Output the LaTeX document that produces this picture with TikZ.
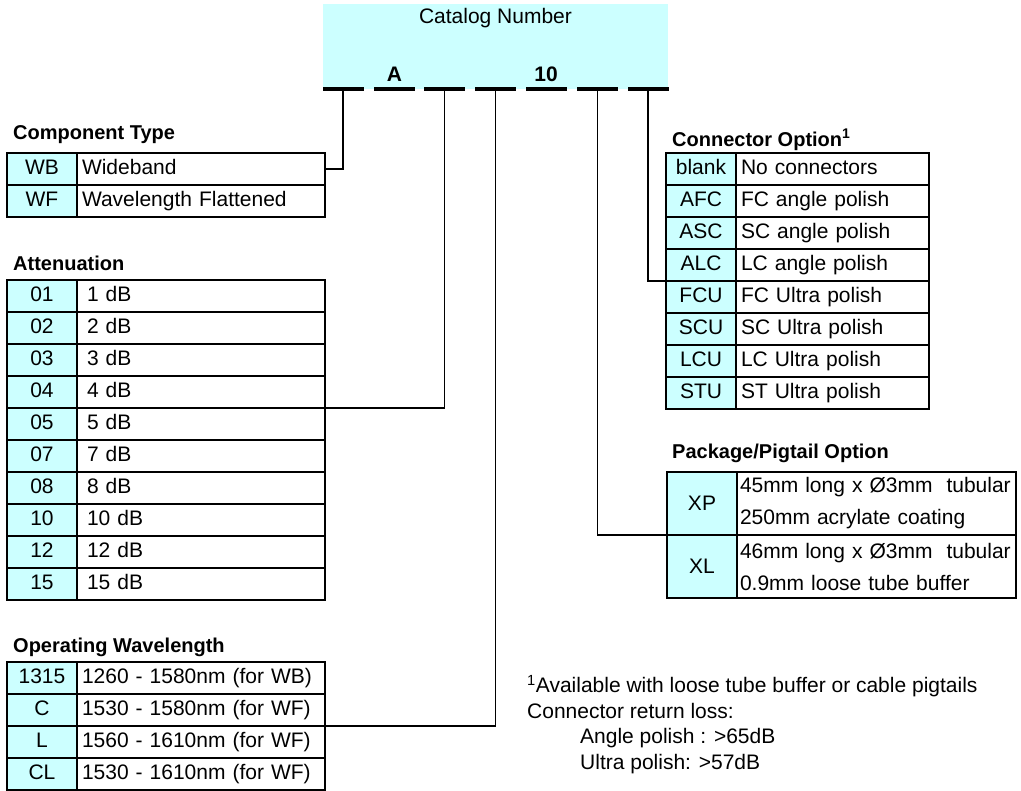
\documentclass[tikz,border=0pt]{standalone}
\usepackage{fontspec}
\setmainfont{Liberation Sans}
\usetikzlibrary{positioning}
\definecolor{keycyan}{HTML}{CCFFFF}
\tikzset{catbox/.style={fill=keycyan, anchor=north west, minimum width=345pt, minimum height=85pt, inner sep=0pt, outer sep=0pt}}
\tikzset{blank/.style={fill=black, minimum width=41pt, minimum height=4pt, inner sep=0pt, outer sep=0pt}}
\tikzset{keycell/.style={draw, fill=keycyan, line width=2pt, anchor=north west,
  minimum width=70pt, minimum height=32pt, inner sep=0pt, outer sep=0pt,
  text height=15.3pt, text depth=4.4pt}}
\tikzset{desccell/.style={draw, line width=2pt, anchor=north west,
  minimum height=32pt, inner xsep=5pt, inner ysep=0pt, outer sep=0pt,
  align=left, text height=15.3pt, text depth=4.4pt}}
\tikzset{pkdesc/.style={draw, line width=2pt, anchor=north west,
  minimum height=63pt, inner xsep=3pt, inner ysep=0pt, outer sep=0pt,
  align=left, text width=273pt, font=\fontsize{21}{32}\selectfont}}
\tikzset{tabhead/.style={anchor=west, inner sep=0pt, font=\fontsize{20}{24}\selectfont\bfseries}}
\tikzset{leader/.style={black, line width=1.2pt}}
\newcommand\optrow[6]{%
  \node[keycell](#1) at (#2,#3) {#4};
  \node[desccell, text width=#5](#1d) at (#1.north east) {#6};}

\begin{document}
\begin{tikzpicture}[x=1pt, y=-1pt, font=\fontsize{21}{25}\selectfont]
\useasboundingbox (0,0) rectangle (1021,791);

\node[catbox](cat) at (323,4) {};
\node(cattitle) at (495.5,18) {Catalog Number};

\node[blank](b1) at (343,89) {};
\node[blank](b2) at (394.5,89) {};
\node[blank](b3) at (444.5,89) {};
\node[blank](b4) at (495.5,89) {};
\node[blank](b5) at (546,89) {};
\node[blank](b6) at (597.5,89) {};
\node[blank](b7) at (648,89) {};
\node[font=\fontsize{21}{25}\selectfont\bfseries](fixa) at (394.5,74) {A};
\node[font=\fontsize{21}{25}\selectfont\bfseries](fixten) at (546,74) {10};

\node[tabhead](cthead) at (13,135) {Component Type};
\optrow{ct1}{7}{153}{WB}{238pt}{Wideband}
\optrow{ct2}{7}{185}{WF}{238pt}{Wavelength Flattened}

\node[tabhead](athead) at (13,263) {Attenuation};
\begin{scope}[desccell/.append style={inner xsep=10pt}]
\optrow{at1}{7}{280}{01}{228pt}{1 dB}
\optrow{at2}{7}{312}{02}{228pt}{2 dB}
\optrow{at3}{7}{344}{03}{228pt}{3 dB}
\optrow{at4}{7}{376}{04}{228pt}{4 dB}
\optrow{at5}{7}{408}{05}{228pt}{5 dB}
\optrow{at6}{7}{440}{07}{228pt}{7 dB}
\optrow{at7}{7}{472}{08}{228pt}{8 dB}
\optrow{at8}{7}{504}{10}{228pt}{10 dB}
\optrow{at9}{7}{536}{12}{228pt}{12 dB}
\optrow{at10}{7}{568}{15}{228pt}{15 dB}
\end{scope}

\node[tabhead](wlhead) at (13,647) {Operating Wavelength};
\optrow{wl1}{7}{662}{1315}{238pt}{1260 - 1580nm (for WB)}
\optrow{wl2}{7}{694}{C}{238pt}{1530 - 1580nm (for WF)}
\optrow{wl3}{7}{726}{L}{238pt}{1560 - 1610nm (for WF)}
\optrow{wl4}{7}{758}{CL}{238pt}{1530 - 1610nm (for WF)}

\node[tabhead](cnhead) at (672,140) {Connector Option\textsuperscript{1}};
\optrow{cn1}{666}{153}{blank}{183pt}{No connectors}
\optrow{cn2}{666}{185}{AFC}{183pt}{FC angle polish}
\optrow{cn3}{666}{217}{ASC}{183pt}{SC angle polish}
\optrow{cn4}{666}{249}{ALC}{183pt}{LC angle polish}
\optrow{cn5}{666}{281}{FCU}{183pt}{FC Ultra polish}
\optrow{cn6}{666}{313}{SCU}{183pt}{SC Ultra polish}
\optrow{cn7}{666}{345}{LCU}{183pt}{LC Ultra polish}
\optrow{cn8}{666}{377}{STU}{183pt}{ST Ultra polish}

\node[tabhead](pkhead) at (672,453) {Package/Pigtail Option};
\node[keycell, minimum height=63pt, text height=, text depth=](pk1) at (667,472) {XP};
\node[pkdesc](pk1d) at (pk1.north east) {45mm long x Ø3mm\ \ tubular\\250mm acrylate coating};
\node[keycell, minimum height=63pt, text height=, text depth=](pk2) at (667,535) {XL};
\node[pkdesc](pk2d) at (pk2.north east) {46mm long x Ø3mm\ \ tubular\\0.9mm loose tube buffer};

\node[anchor=north west, inner sep=0pt, align=left, font=\fontsize{21}{25.5}\selectfont](note) at (527,675)
{\textsuperscript{1}Available with loose tube buffer or cable pigtails\\
Connector return loss:\\
\hspace*{53pt}Angle polish : >65dB\\
\hspace*{53pt}Ultra polish: >57dB};

\draw[leader] (b1.south) |- (ct1d.east);
\draw[leader] (b3.south) |- (at4d.south east);
\draw[leader] (b4.south) |- (wl2d.south east);
\draw[leader] (b6.south) |- (pk1.south west);
\draw[leader] (b7.south) |- (cn4.south west);
\end{tikzpicture}
\end{document}
